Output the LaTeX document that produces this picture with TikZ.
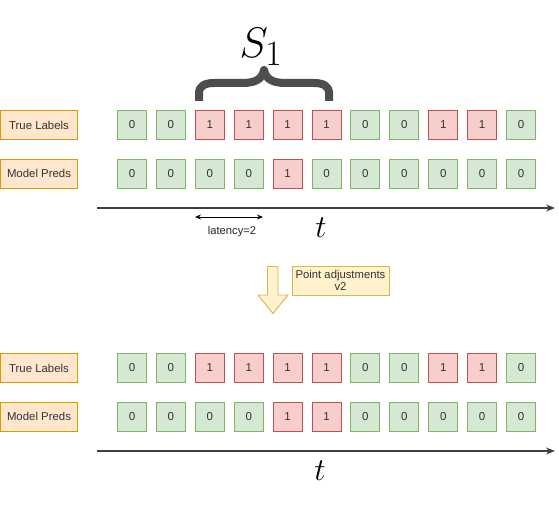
\documentclass[tikz,border=0pt]{standalone}
\usepackage{fontspec}
\setmainfont{Liberation Sans}
\usetikzlibrary{arrows.meta}
\definecolor{gfill}{HTML}{D5E8D4}
\definecolor{gdraw}{HTML}{82B366}
\definecolor{rfill}{HTML}{F8CECC}
\definecolor{rdraw}{HTML}{B85450}
\definecolor{ofill}{HTML}{FFE6CC}
\definecolor{odraw}{HTML}{D79B00}
\definecolor{yfill}{HTML}{FFF2CC}
\definecolor{ydraw}{HTML}{D6B656}
\definecolor{bracecol}{HTML}{4D4D4D}
\definecolor{txt}{HTML}{333333}
\begin{document}
\begin{tikzpicture}[x=1pt,y=-1pt,
  cell/.style={minimum width=29pt,minimum height=29pt,inner sep=0pt,line width=0.9pt,
    font=\fontsize{11.5}{13}\selectfont,text=txt},
  cell0/.style={cell,fill=gfill,draw=gdraw},
  cell1/.style={cell,fill=rfill,draw=rdraw},
  lab/.style={minimum width=77pt,minimum height=29pt,inner sep=0pt,fill=ofill,draw=odraw,
    line width=0.9pt,font=\fontsize{11.4}{13}\selectfont,text=txt},
  axis/.style={line width=1.3pt,draw=black!75,-{Stealth[length=9pt,width=7pt]}},
  bigt/.style={font=\fontsize{20.74}{24}\selectfont,inner sep=0pt,scale=1.54}]
\useasboundingbox (0,0) rectangle (559,505);

% labels
\node[lab] (tl1) at (39,125) {True Labels};
\node[lab] (mp1) at (39,173.5) {Model Preds};
\node[lab] (tl2) at (39,368) {True Labels};
\node[lab] (mp2) at (39,416.5) {Model Preds};

% cells
\foreach \v [count=\i] in {0,0,1,1,1,1,0,0,1,1,0}
  \node[cell\v] (a\i) at ({132+38.9*(\i-1)},125) {\v};
\foreach \v [count=\i] in {0,0,0,0,1,0,0,0,0,0,0}
  \node[cell\v] (b\i) at ({132+38.9*(\i-1)},173.5) {\v};
\foreach \v [count=\i] in {0,0,1,1,1,1,0,0,1,1,0}
  \node[cell\v] (c\i) at ({132+38.9*(\i-1)},368) {\v};
\foreach \v [count=\i] in {0,0,0,0,1,1,0,0,0,0,0}
  \node[cell\v] (d\i) at ({132+38.9*(\i-1)},416.5) {\v};

% axes
\coordinate (ax1s) at (97,208);
\coordinate (ax1e) at (555,208);
\coordinate (ax2s) at (97,451);
\coordinate (ax2e) at (555,451);
\draw[axis] (ax1s) -- (ax1e);
\draw[axis] (ax2s) -- (ax2e);
\node[bigt] (t1) at (321,228) {$t$};
\node[bigt] (t2) at (320,471) {$t$};

% latency
\coordinate (la) at (195,217);
\coordinate (lb) at (263,217);
\draw[line width=0.8pt,{Stealth[length=6pt,width=5pt]}-{Stealth[length=6pt,width=5pt]}] (la) -- (lb);
\node[font=\fontsize{11.2}{13}\selectfont,text=black!85] (lat) at (232,232) {latency=2};

% brace
\draw[line width=8pt,draw=bracecol,line join=round]
  (199,101) -- (199,93) .. controls (199,86) and (205,83) .. (214,83) -- (242,83)
  .. controls (256,83) and (262,79) .. (264,70)
  .. controls (266,79) and (272,83) .. (286,83) -- (314,83)
  .. controls (323,83) and (329,86) .. (329,93) -- (329,101);
\node[font=\fontsize{24.88}{28}\selectfont,inner sep=0pt,scale=1.72] (s1) at (261,47) {$S_1$};

% block arrow
\draw[fill=yfill,draw=ydraw,line width=0.9pt]
  (267.5,266.5) -- (278,266.5) -- (278,295) -- (288,295) -- (273,313.5)
  -- (258,295) -- (267.5,295) -- cycle;
\node[fill=yfill,draw=ydraw,line width=0.9pt,minimum width=97pt,minimum height=29pt,
  inner sep=0pt,align=center,font=\fontsize{11.3}{12.5}\selectfont,text=txt] (pa) at (340.5,280.5)
  {Point adjustments\\v2};
\end{tikzpicture}
\end{document}
